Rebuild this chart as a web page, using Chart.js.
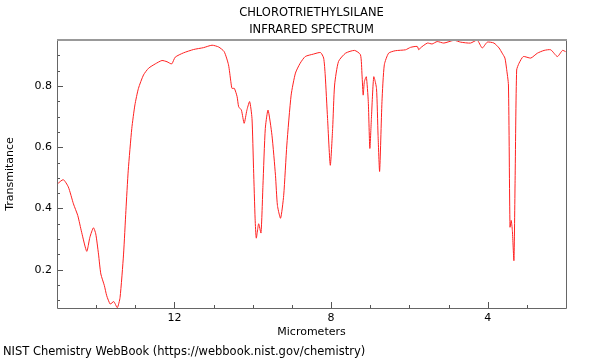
<!DOCTYPE html>
<html>
<head>
<meta charset="utf-8">
<script src="https://cdn.jsdelivr.net/npm/chart.js@4"></script>
<style>
  html, body { margin: 0; padding: 0; background: #fff; }
  #wrap { width: 600px; height: 360px; }
</style>
</head>
<body>
<div id="wrap"><canvas id="chart"></canvas></div>
<script>
const titleLines = ["CHLOROTRIETHYLSILANE", "INFRARED SPECTRUM"];
const footerText = "NIST Chemistry WebBook (https://webbook.nist.gov/chemistry)";

// wavelength (micrometers) and transmittance
const micrometers = [
    15.00, 14.84, 14.71, 14.58, 14.47, 14.37, 14.24, 14.16, 14.07, 14.01,
    13.94, 13.88, 13.79, 13.73, 13.64, 13.55, 13.46, 13.39, 13.30, 13.24,
    13.18, 13.09, 13.01, 12.92, 12.79, 12.66, 12.49, 12.32, 12.19, 12.07,
    11.98, 11.77, 11.51, 11.26, 11.04, 10.87, 10.73, 10.62, 10.56, 10.53,
    10.47, 10.40, 10.36, 10.29, 10.22, 10.15, 10.08, 10.02, 9.98, 9.94,
    9.91, 9.85, 9.79, 9.74, 9.68, 9.61, 9.51, 9.42, 9.37, 9.29,
    9.21, 9.13, 9.02, 8.91, 8.79, 8.66, 8.45, 8.27, 8.19, 8.15,
    8.09, 8.02, 7.96, 7.91, 7.81, 7.63, 7.40, 7.25, 7.21, 7.18,
    7.15, 7.10, 7.05, 7.01, 6.97, 6.91, 6.84, 6.80, 6.76, 6.70,
    6.64, 6.53, 6.36, 6.10, 5.97, 5.80, 5.76, 5.72, 5.54, 5.42,
    5.29, 5.12, 4.86, 4.69, 4.44, 4.27, 4.14, 4.01, 3.84, 3.71,
    3.63, 3.56, 3.52, 3.47, 3.43, 3.40, 3.37, 3.33, 3.30, 3.26,
    3.20, 3.09, 2.90, 2.73, 2.56, 2.39, 2.22, 2.09, 2.01
];
const transmittance = [
    0.479, 0.494, 0.470, 0.415, 0.377, 0.322, 0.260, 0.306, 0.337, 0.317,
    0.251, 0.186, 0.148, 0.115, 0.088, 0.096, 0.076, 0.109, 0.251, 0.393,
    0.525, 0.661, 0.738, 0.792, 0.836, 0.858, 0.872, 0.883, 0.879, 0.872,
    0.894, 0.908, 0.919, 0.925, 0.933, 0.927, 0.912, 0.869, 0.814, 0.792,
    0.792, 0.765, 0.732, 0.721, 0.678, 0.721, 0.749, 0.694, 0.530, 0.366,
    0.303, 0.350, 0.320, 0.475, 0.661, 0.721, 0.639, 0.508, 0.410, 0.368,
    0.443, 0.607, 0.770, 0.842, 0.874, 0.896, 0.904, 0.909, 0.891, 0.836,
    0.694, 0.541, 0.661, 0.803, 0.880, 0.907, 0.916, 0.902, 0.836, 0.770,
    0.814, 0.830, 0.749, 0.596, 0.694, 0.830, 0.792, 0.639, 0.521, 0.749,
    0.869, 0.907, 0.915, 0.918, 0.926, 0.929, 0.918, 0.924, 0.940, 0.937,
    0.945, 0.940, 0.949, 0.943, 0.940, 0.950, 0.924, 0.943, 0.940, 0.924,
    0.907, 0.891, 0.858, 0.803, 0.339, 0.361, 0.328, 0.230, 0.492, 0.852,
    0.874, 0.896, 0.891, 0.907, 0.916, 0.918, 0.896, 0.916, 0.912
];

const xLabels = [12, 8, 4];
const yLabels = [0.2, 0.4, 0.6, 0.8];

const FONT = "DejaVu Sans";

// frame, inward ticks, title lines and footer
const decor = {
    id: "decor",
    afterDraw(chart) {
        const { ctx, chartArea: a, scales: { x, y } } = chart;
        ctx.save();

        ctx.strokeStyle = "#555";
        ctx.lineWidth = 1;
        for (let v = 0.1; v < 0.951; v += 0.05) {
            const py = Math.round(y.getPixelForValue(v)) + 0.5;
            const major = yLabels.some(l => Math.abs(l - v) < 1e-6);
            ctx.beginPath();
            ctx.moveTo(a.left, py);
            ctx.lineTo(a.left + (major ? 6 : 3), py);
            ctx.stroke();
        }
        for (let v = 3; v <= 14; v++) {
            const px = Math.round(x.getPixelForValue(v)) + 0.5;
            const major = xLabels.includes(v);
            ctx.beginPath();
            ctx.moveTo(px, a.bottom);
            ctx.lineTo(px, a.bottom - (major ? 6 : 3));
            ctx.stroke();
        }

        ctx.strokeStyle = "#666";
        ctx.beginPath();
        ctx.moveTo(a.left + 0.5, a.top);
        ctx.lineTo(a.left + 0.5, a.bottom + 0.5);
        ctx.lineTo(a.right + 0.5, a.bottom + 0.5);
        ctx.lineTo(a.right + 0.5, a.top);
        ctx.stroke();
        ctx.strokeStyle = "#999";
        ctx.lineWidth = 2;
        ctx.beginPath();
        ctx.moveTo(a.left, a.top);
        ctx.lineTo(a.right + 1, a.top);
        ctx.stroke();

        ctx.fillStyle = "#000";
        ctx.font = "11.5px '" + FONT + "'";
        ctx.textAlign = "center";
        ctx.textBaseline = "middle";
        const cx = (a.left + a.right) / 2;
        ctx.fillText(titleLines[0], cx, 13);
        ctx.fillText(titleLines[1], cx, 30);
        ctx.textAlign = "left";
        ctx.fillText(footerText, 3, 352);
        ctx.restore();
    }
};

new Chart(document.getElementById("chart"), {
    type: "line",
    data: {
        datasets: [{
            data: micrometers.map((m, i) => ({ x: m, y: transmittance[i] })),
            borderColor: "#ff2020",
            borderWidth: 1,
            pointRadius: 0,
            tension: 0.2,
            fill: false
        }]
    },
    options: {
        responsive: true,
        maintainAspectRatio: false,
        animation: false,
        layout: { padding: { top: 40, right: 34, left: 0, bottom: 0 } },
        plugins: { legend: { display: false }, tooltip: { enabled: false } },
        scales: {
            x: {
                type: "linear",
                reverse: true,
                min: 2,
                max: 15,
                afterFit: s => { s.height = 52; },
                grid: { display: false, drawTicks: false },
                border: { display: false },
                ticks: {
                    stepSize: 1,
                    padding: 4,
                    autoSkip: false,
                    maxRotation: 0,
                    color: "#000",
                    font: { family: FONT, size: 11 },
                    callback: v => xLabels.includes(v) ? String(v) : ""
                },
                title: {
                    display: true,
                    text: "Micrometers",
                    color: "#000",
                    font: { family: FONT, size: 11 },
                    padding: { top: 0, bottom: 21 }
                }
            },
            y: {
                min: 0.075,
                max: 0.95,
                afterFit: s => { s.width = 57; },
                grid: { display: false, drawTicks: false },
                border: { display: false },
                ticks: {
                    stepSize: 0.05,
                    padding: 5,
                    autoSkip: false,
                    color: "#000",
                    font: { family: FONT, size: 11 },
                    callback: v => yLabels.some(l => Math.abs(l - v) < 1e-6) ? v.toFixed(1) : ""
                },
                title: {
                    display: true,
                    text: "Transmitance",
                    color: "#000",
                    font: { family: FONT, size: 11 },
                    padding: { top: 4, bottom: 0 }
                }
            }
        }
    },
    plugins: [decor]
});
</script>
</body>
</html>
